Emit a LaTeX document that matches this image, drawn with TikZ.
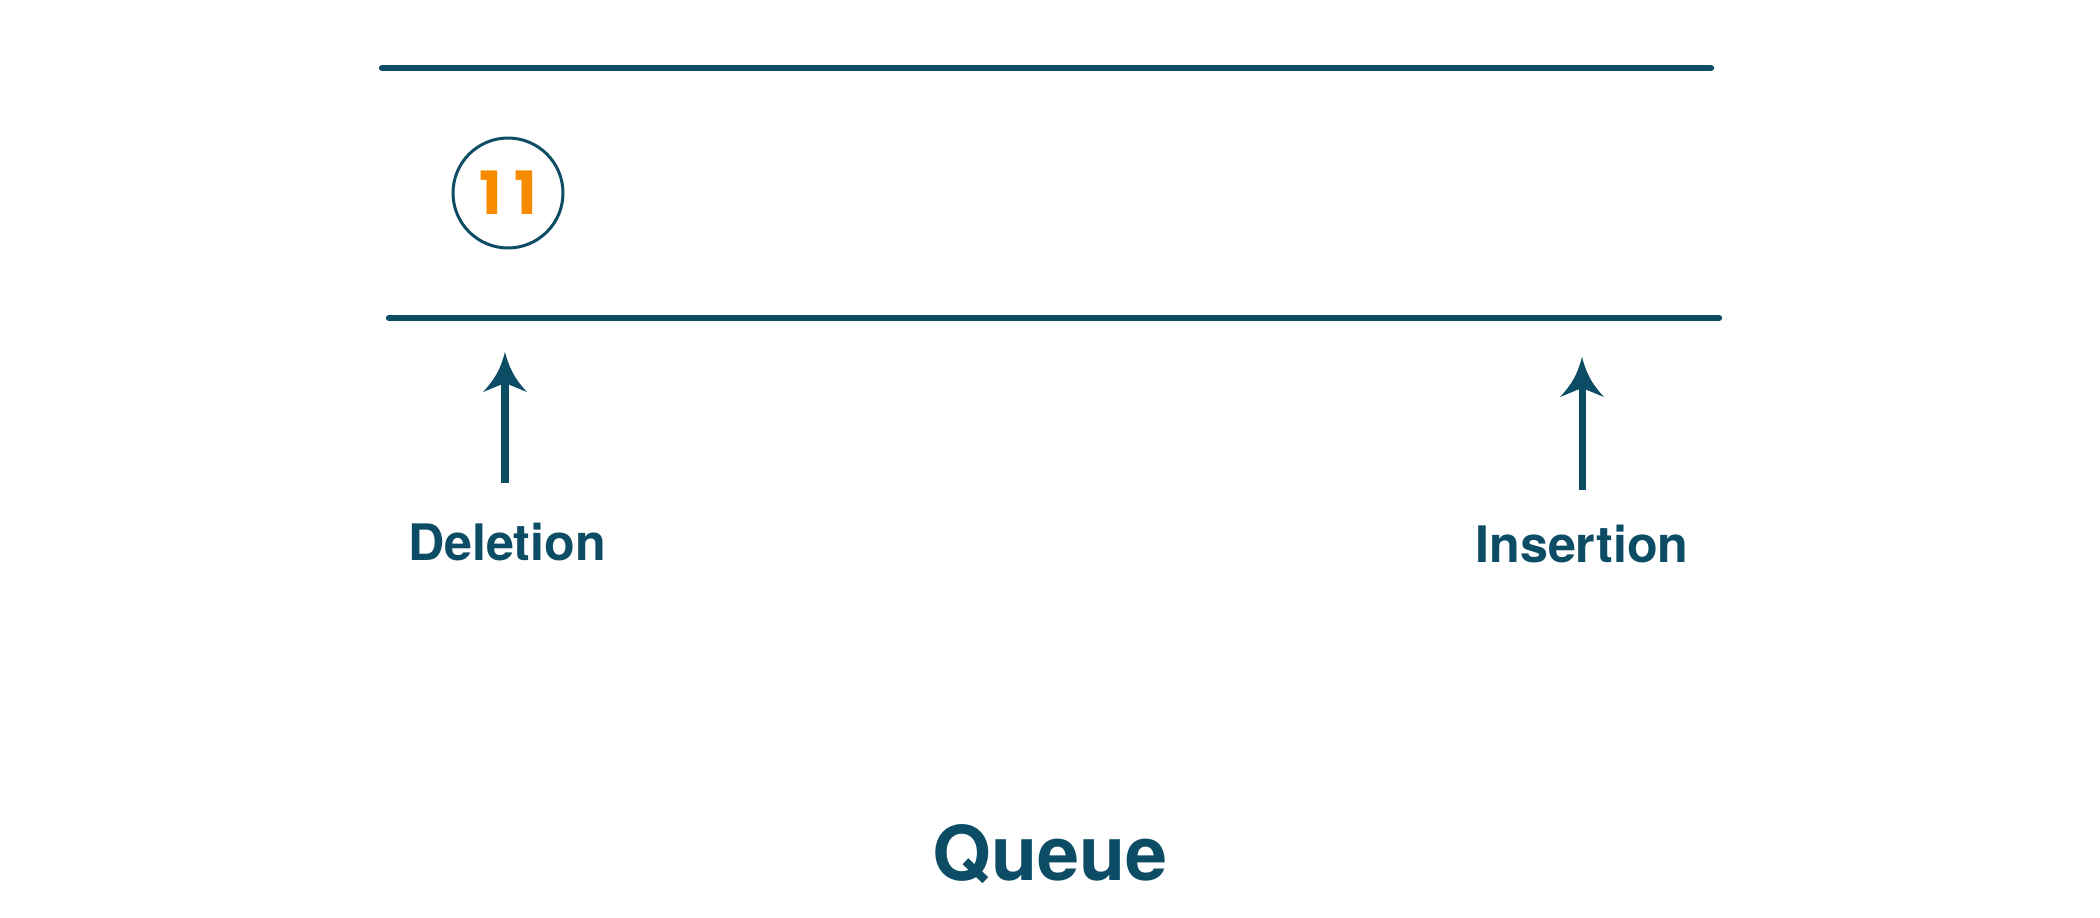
\documentclass[tikz,border=0pt]{standalone}
\usepackage{fontspec}
\setmainfont{TeX Gyre Heros}
\newfontfamily\digitfont{Poppins}
\usepackage{tikz}
\definecolor{qblue}{RGB}{12,76,100}
\definecolor{qorange}{RGB}{246,139,0}
\tikzstyle{wall} = [draw=qblue, line width=3.6pt, line cap=round]
\tikzstyle{item} = [circle, draw=qblue, line width=1.7pt, minimum size=2.2cm, inner sep=0pt, text=qorange, font=\digitfont\bfseries\fontsize{34}{34}\selectfont]
\tikzstyle{tag} = [anchor=base, text=qblue, font=\bfseries\fontsize{28.6}{28.6}\selectfont]
\tikzstyle{title} = [anchor=base, text=qblue, font=\bfseries\fontsize{43}{43}\selectfont]
\tikzstyle{arrow} = [draw=qblue, line width=4pt, shorten >=0.5cm]
\newcommand{\qhead}[1]{\fill [qblue] (#1) to[bend left=14] ++(-22,40) -- ++(22,-9) -- ++(22,9) to[bend left=14] (#1);}

\begin{document}
\begin{tikzpicture}[x=0.02cm, y=-0.02cm]
		\useasboundingbox (0,0) rectangle (2100,917);
		% queue walls
		\coordinate (topL) at (382,68);
		\coordinate (topR) at (1711,68);
		\coordinate (botL) at (389,318);
		\coordinate (botR) at (1719,318);
		\draw [wall] (topL) -- (topR);
		\draw [wall] (botL) -- (botR);
		\node (elem) [item] at (508,193) {1\kern7pt1};
		% labels
		\node (del) [tag] at (507,560) {Deletion};
		\node (ins) [tag] at (1582,562) {Insertion};
		\node (queue) [title] at (1050,880) {Queue};
		\coordinate (delfoot) at (505,483);
		\coordinate (deltip) at (505,352);
		\coordinate (insfoot) at (1582,490);
		\coordinate (instip) at (1582,357);
		\draw [arrow] (delfoot) -- (deltip);
		\draw [arrow] (insfoot) -- (instip);
		\qhead{deltip}
		\qhead{instip}
\end{tikzpicture}
\end{document}
